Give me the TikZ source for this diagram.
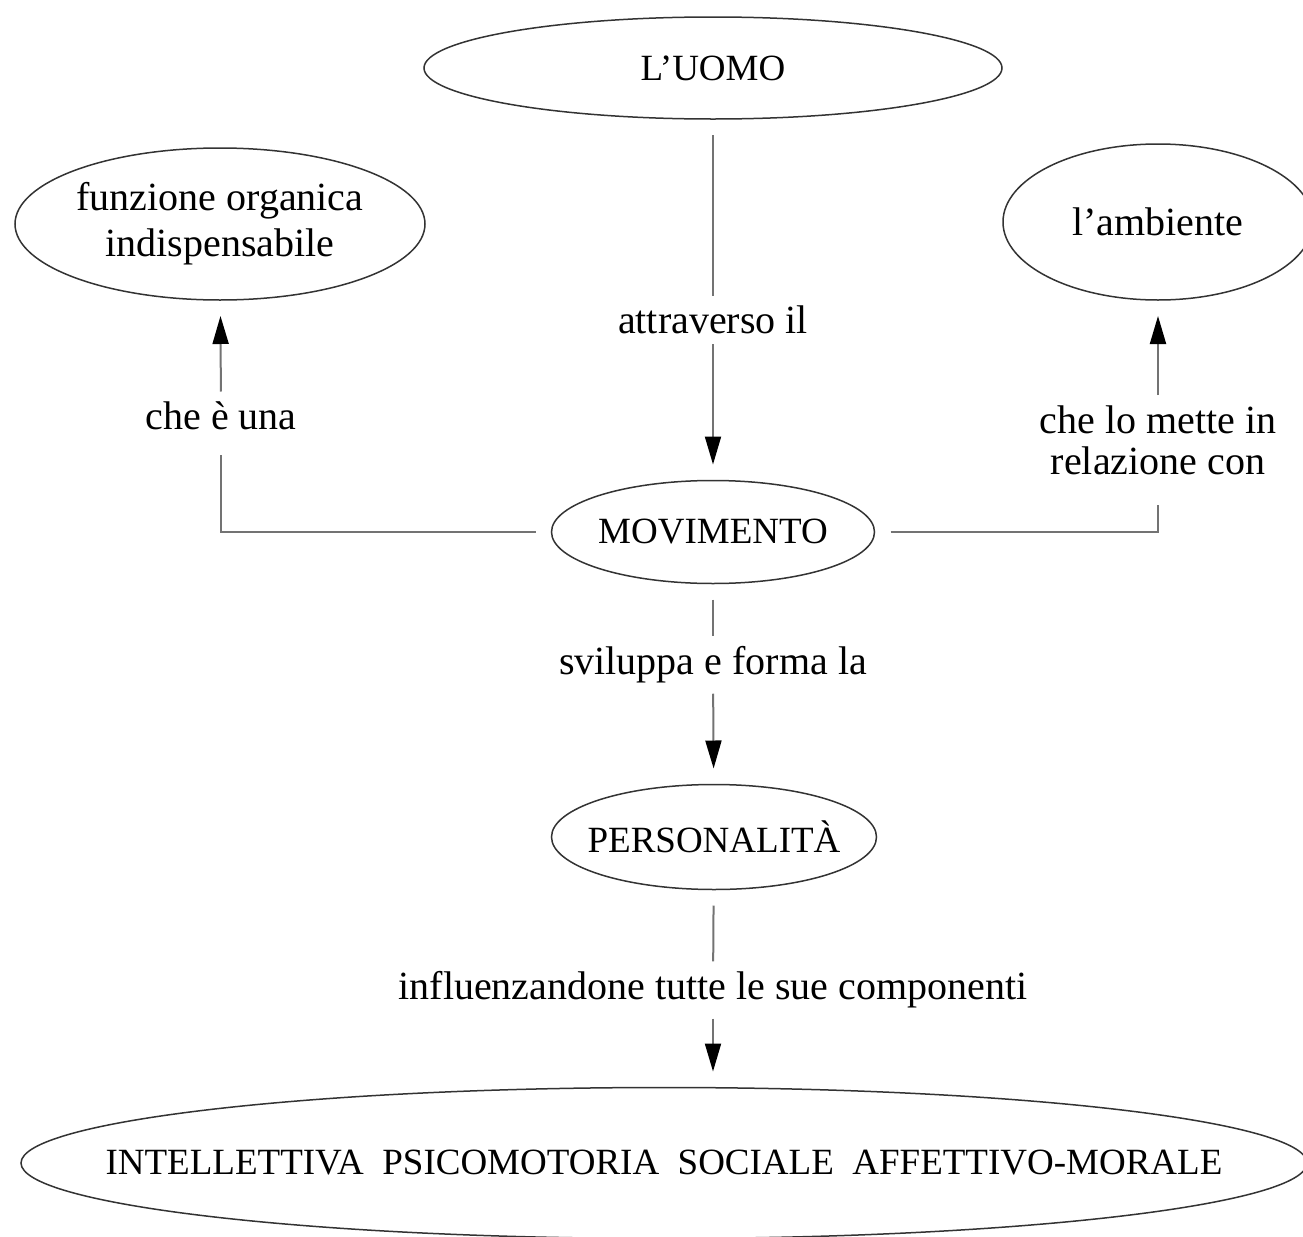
\documentclass[tikz,border=0pt]{standalone}
\usepackage{fontspec}
\setmainfont{Liberation Serif}
\usetikzlibrary{shapes.geometric,arrows.meta}

\begin{document}
\begin{tikzpicture}[x=0.5pt,y=-0.5pt,
  idea/.style={ellipse,draw=black!80,line width=0.75pt,inner sep=0pt,outer sep=8pt,align=center,font=\fontsize{18.5}{23}\selectfont},
  small/.style={font=\fontsize{20}{23}\selectfont},
  verb/.style={inner sep=5pt,align=center,font=\fontsize{20}{20.5}\selectfont},
  link/.style={draw=black!55,line width=1pt},
  arr/.style={link,-{Triangle[length=14pt,width=8pt,color=black]}}]
\path[use as bounding box] (0,0) rectangle (1303,1237);
% concetti
\node[idea,minimum width=289pt,minimum height=51pt] (uomo) at (713,68) {L'UOMO};
\node[idea,small,minimum width=205pt,minimum height=76pt] (funz) at (220,224) {funzione organica\\indispensabile};
\node[idea,small,minimum width=155pt,minimum height=78pt] (amb) at (1158,222) {l'ambiente};
\node[idea,minimum width=161.5pt,minimum height=51.5pt] (mov) at (713,532) {\makebox[0pt]{MOVIMENTO}};
\node[idea,minimum width=162.5pt,minimum height=52.5pt] (pers) at (714,837) {\makebox[0pt]{PERSONALITÀ}};
\node[idea,minimum width=643pt,minimum height=75.5pt] (comp) at (664,1163) {\makebox[0pt]{INTELLETTIVA\enspace PSICOMOTORIA\enspace SOCIALE\enspace AFFETTIVO-MORALE}};
% parole di legame
\node[verb] (attr) at (713,320) {attraverso il};
\node[verb] (una) at (221,416) {che è una};
\node[verb] (rel) at (1158,440) {che lo mette in\\relazione con};
\node[verb] (svil) at (713,665) {sviluppa e forma la};
\node[verb] (infl) at (713,990) {influenzandone tutte le sue componenti};
% collegamenti
\draw[link] (uomo) -- (attr);
\draw[arr] (attr) -- (mov);
\draw[link,shorten >=7pt] (mov) -| (una);
\draw[arr] (una) -- (funz);
\draw[link,shorten >=10pt] (mov) -| (rel);
\draw[arr] (rel) -- (amb);
\draw[link] (mov) -- (svil);
\draw[arr] (svil) -- (pers);
\draw[link] (pers) -- (infl);
\draw[arr] (infl) -- (infl |- comp.north);
\end{tikzpicture}
\end{document}
